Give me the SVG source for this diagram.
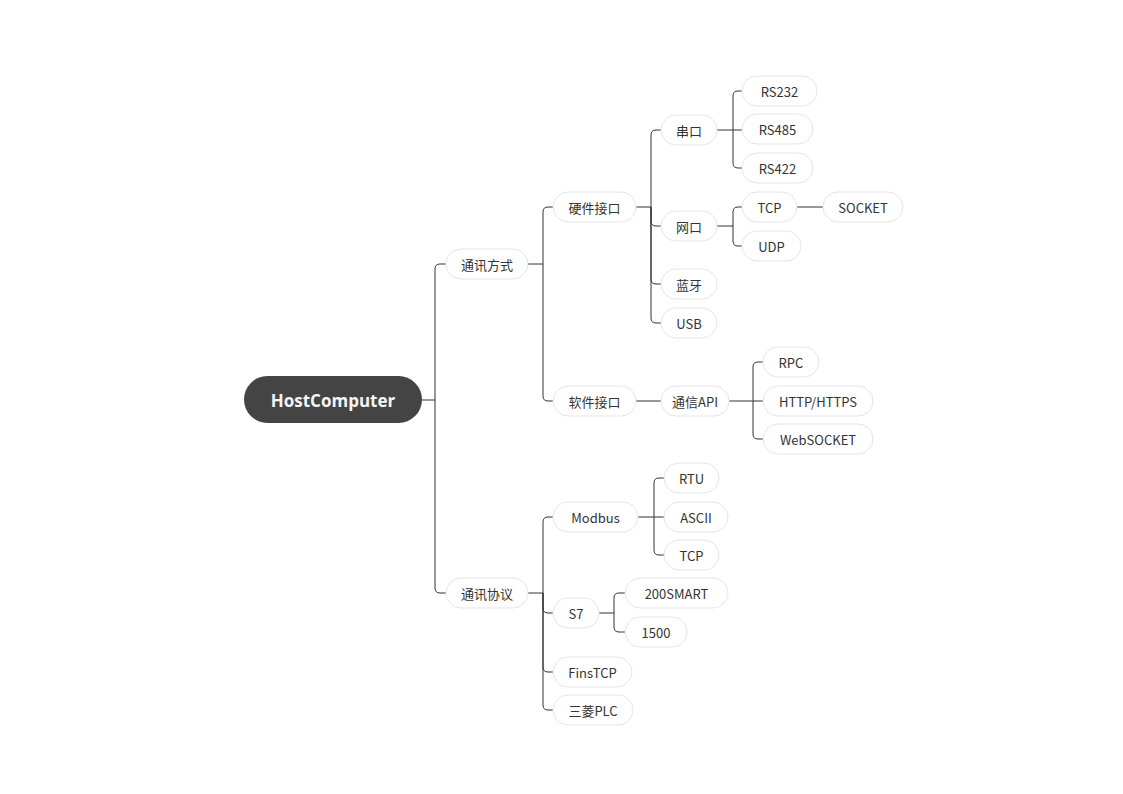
<svg xmlns="http://www.w3.org/2000/svg" width="1123" height="794" viewBox="0 0 1123 794">
<style>
.bg{fill:#ffffff}
.n rect{fill:#ffffff;stroke:#e5e5e5;stroke-width:1}
.n text{font-family:"Noto Sans CJK SC","Liberation Sans",sans-serif;font-size:13px;fill:#333333;text-anchor:middle;dominant-baseline:central}
.root rect{fill:#444444;stroke:none}
.root text{font-family:"Open Sans","Noto Sans CJK SC",sans-serif;font-size:17px;font-weight:bold;fill:#f5f5f5;text-anchor:middle;dominant-baseline:central}
.c path{fill:none;stroke:#333333;stroke-width:1}
</style>
<rect class="bg" x="0" y="0" width="1123" height="794"/>
<g class="c" id="connectors">
<!-- root -->
<path d="M422 400 H435"/>
<path d="M435 400 V269 Q435 264 440 264 H446"/>
<path d="M435 400 V588 Q435 593 440 593 H446"/>
<!-- 通讯方式 -->
<path d="M528 264 H543"/>
<path d="M543 264 V212 Q543 207 548 207 H553"/>
<path d="M543 264 V396 Q543 401 548 401 H553"/>
<!-- 硬件接口 -->
<path d="M636 207 H651"/>
<path d="M651 207 V135 Q651 130 656 130 H661"/>
<path d="M651 207 V221 Q651 226 656 226 H661"/>
<path d="M651 207 V279 Q651 284 656 284 H661"/>
<path d="M651 207 V318 Q651 323 656 323 H661"/>
<!-- 串口 -->
<path d="M717 130 H733"/>
<path d="M733 130 V96 Q733 91 738 91 H742"/>
<path d="M733 130 H742"/>
<path d="M733 130 V163 Q733 168 738 168 H742"/>
<!-- 网口 -->
<path d="M717 226 H733"/>
<path d="M733 226 V212 Q733 207 738 207 H742"/>
<path d="M733 226 V241 Q733 246 738 246 H742"/>
<!-- TCP -> SOCKET -->
<path d="M797 207 H823"/>
<!-- 软件接口 -->
<path d="M636 401 H661"/>
<!-- 通信API -->
<path d="M729 401 H753"/>
<path d="M753 401 V367 Q753 362 758 362 H763"/>
<path d="M753 401 H763"/>
<path d="M753 401 V434 Q753 439 758 439 H763"/>
<!-- 通讯协议 -->
<path d="M528 593 H543"/>
<path d="M543 593 V522 Q543 517 548 517 H553"/>
<path d="M543 593 V608 Q543 613 548 613 H553"/>
<path d="M543 593 V667 Q543 672 548 672 H553"/>
<path d="M543 593 V705 Q543 710 548 710 H553"/>
<!-- Modbus -->
<path d="M638 517 H654"/>
<path d="M654 517 V483 Q654 478 659 478 H664"/>
<path d="M654 517 H664"/>
<path d="M654 517 V550 Q654 555 659 555 H664"/>
<!-- S7 -->
<path d="M599 613 H614"/>
<path d="M614 613 V598 Q614 593 619 593 H625"/>
<path d="M614 613 V627 Q614 632 619 632 H625"/>
</g>
<g class="root" id="n-root"><rect x="244" y="376" width="178" height="47" rx="23.5"/><text x="333" y="400">HostComputer</text></g>
<g class="n" id="n-txfs"><rect x="446" y="249" width="82" height="30" rx="15"/><text x="487" y="264">通讯方式</text></g>
<g class="n" id="n-yjjk"><rect x="553" y="192" width="83" height="30" rx="15"/><text x="594.5" y="207">硬件接口</text></g>
<g class="n" id="n-ck"><rect x="661" y="115" width="56" height="30" rx="15"/><text x="689" y="130">串口</text></g>
<g class="n" id="n-rs232"><rect x="742" y="76" width="75" height="30" rx="15"/><text x="779.5" y="91">RS232</text></g>
<g class="n" id="n-rs485"><rect x="742" y="114" width="71" height="30" rx="15"/><text x="777.5" y="129">RS485</text></g>
<g class="n" id="n-rs422"><rect x="742" y="153" width="71" height="30" rx="15"/><text x="777.5" y="168">RS422</text></g>
<g class="n" id="n-wk"><rect x="661" y="211" width="56" height="30" rx="15"/><text x="689" y="226">网口</text></g>
<g class="n" id="n-tcp1"><rect x="742" y="192" width="55" height="30" rx="15"/><text x="769.5" y="207">TCP</text></g>
<g class="n" id="n-socket"><rect x="823" y="192" width="80" height="30" rx="15"/><text x="863" y="207">SOCKET</text></g>
<g class="n" id="n-udp"><rect x="742" y="231" width="59" height="30" rx="15"/><text x="771.5" y="246">UDP</text></g>
<g class="n" id="n-ly"><rect x="661" y="269" width="56" height="30" rx="15"/><text x="689" y="284">蓝牙</text></g>
<g class="n" id="n-usb"><rect x="661" y="308" width="56" height="30" rx="15"/><text x="689" y="323">USB</text></g>
<g class="n" id="n-rjjk"><rect x="553" y="386" width="83" height="30" rx="15"/><text x="594.5" y="401">软件接口</text></g>
<g class="n" id="n-api"><rect x="661" y="386" width="68" height="30" rx="15"/><text x="695" y="401">通信API</text></g>
<g class="n" id="n-rpc"><rect x="763" y="347" width="56" height="30" rx="15"/><text x="791" y="362">RPC</text></g>
<g class="n" id="n-http"><rect x="763" y="386" width="110" height="30" rx="15"/><text x="818" y="401">HTTP/HTTPS</text></g>
<g class="n" id="n-ws"><rect x="763" y="424" width="110" height="30" rx="15"/><text x="818" y="439">WebSOCKET</text></g>
<g class="n" id="n-txxy"><rect x="446" y="578" width="82" height="30" rx="15"/><text x="487" y="593">通讯协议</text></g>
<g class="n" id="n-modbus"><rect x="553" y="502" width="85" height="30" rx="15"/><text x="595.5" y="517">Modbus</text></g>
<g class="n" id="n-rtu"><rect x="664" y="463" width="55" height="30" rx="15"/><text x="691.5" y="478">RTU</text></g>
<g class="n" id="n-ascii"><rect x="664" y="502" width="64" height="30" rx="15"/><text x="696" y="517">ASCII</text></g>
<g class="n" id="n-tcp2"><rect x="664" y="540" width="55" height="30" rx="15"/><text x="691.5" y="555">TCP</text></g>
<g class="n" id="n-s7"><rect x="553" y="598" width="46" height="30" rx="15"/><text x="576" y="613">S7</text></g>
<g class="n" id="n-200smart"><rect x="625" y="578" width="103" height="30" rx="15"/><text x="676.5" y="593">200SMART</text></g>
<g class="n" id="n-1500"><rect x="625" y="617" width="62" height="30" rx="15"/><text x="656" y="632">1500</text></g>
<g class="n" id="n-fins"><rect x="553" y="657" width="79" height="30" rx="15"/><text x="592.5" y="672">FinsTCP</text></g>
<g class="n" id="n-mitsu"><rect x="553" y="695" width="80" height="30" rx="15"/><text x="593" y="710">三菱PLC</text></g>
</svg>
